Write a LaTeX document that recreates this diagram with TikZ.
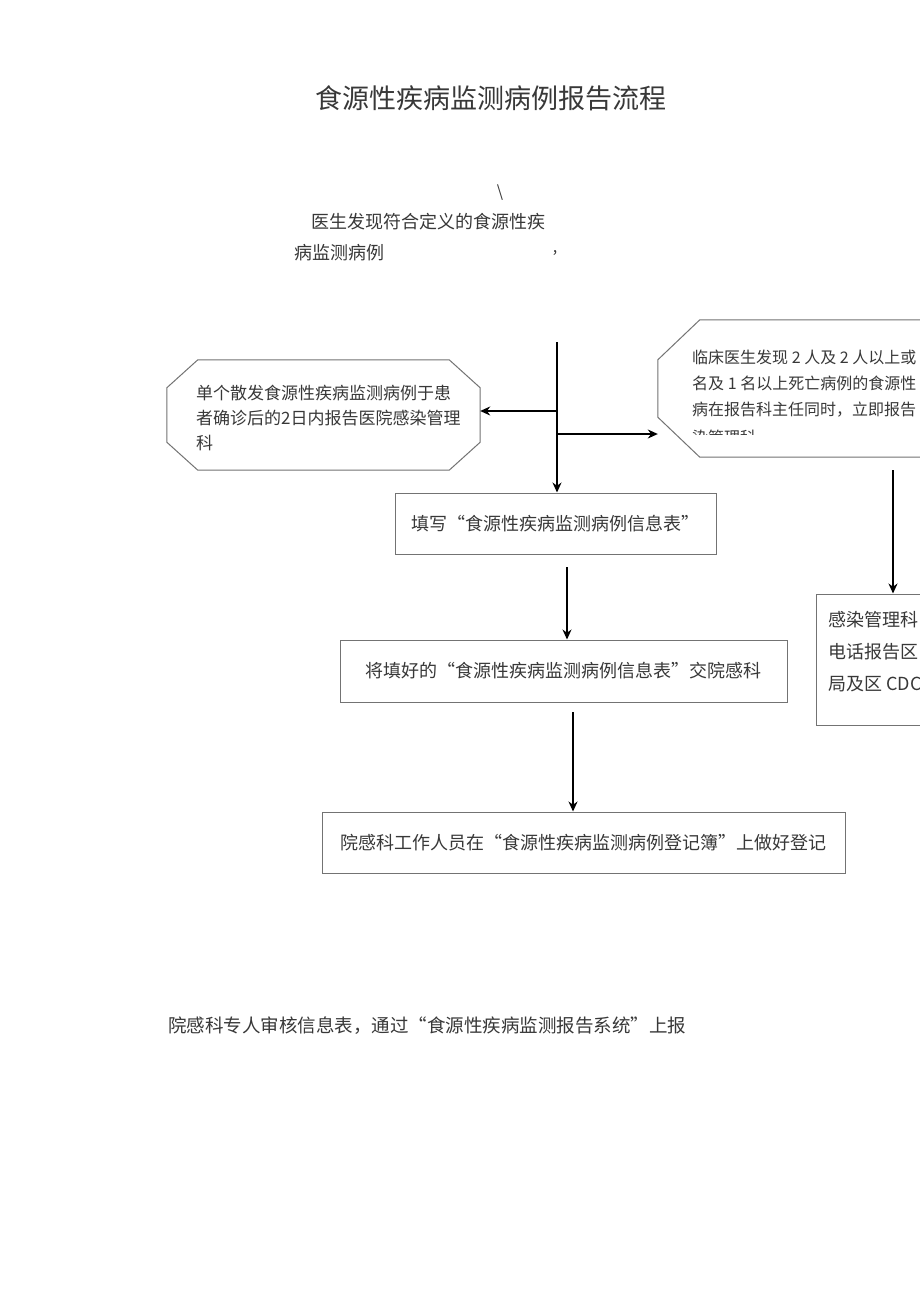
\documentclass[tikz,border=0pt]{standalone}
\usepackage{fontspec}
\setmainfont{Noto Sans CJK SC}
\usetikzlibrary{arrows.meta,positioning,calc}
\definecolor{inkgray}{rgb}{0.22,0.22,0.22}
\definecolor{linegray}{rgb}{0.45,0.45,0.45}
\tikzstyle{box} = [draw=linegray, line width=1pt, minimum width=300pt, minimum height=61pt, inner sep=0pt, text=inkgray, font=\fontsize{18}{22}\selectfont]
\tikzstyle{oct} = [draw=linegray, line width=1pt]
\tikzstyle{txt} = [text=inkgray, inner sep=0pt, align=left, font=\fontsize{16}{26}\selectfont]
\tikzstyle{arrow} = [line width=1.3pt, -{Stealth[length=10pt,width=9pt]}]

\begin{document}
\begin{tikzpicture}[x=1pt,y=-1pt]
\useasboundingbox (0,0) rectangle (920,1301);
\fill [white] (0,0) rectangle (920,1301);
\clip (0,0) rectangle (920,1301);

\node (title) [text=inkgray, font=\fontsize{27}{30}\selectfont] at (491,98) {食源性疾病监测病例报告流程};
\node (slash) [text=inkgray, font=\fontsize{16}{18}\selectfont] at (500,193) {\textbackslash};
\node (find1) [text=inkgray, font=\fontsize{18}{22}\selectfont] at (428,222) {医生发现符合定义的食源性疾};
\node (find2) [text=inkgray, font=\fontsize{18}{22}\selectfont, anchor=west] at (291,253) {病监测病例};
\node (comma) [text=inkgray, font=\fontsize{16}{18}\selectfont] at (555,253) {,};

% octagons
\node (single) [minimum width=313pt, minimum height=110pt] at (323.5,415) {};
\draw [oct] ([xshift=31]single.north west) -- ([xshift=-31]single.north east) -- ([yshift=-28]single.north east) -- ([yshift=28]single.south east) -- ([xshift=-31]single.south east) -- ([xshift=31]single.south west) -- ([yshift=28]single.south west) -- ([yshift=-28]single.north west) -- cycle;
\node (singletxt) [txt, anchor=north west, font=\fontsize{17}{25}\selectfont] at (196,385) {单个散发食源性疾病监测病例于患\\者确诊后的2日内报告医院感染管理\\科};

\node (group) [minimum width=342pt, minimum height=137pt] at (829,388.5) {};
\draw [oct] ([xshift=42]group.north west) -- ([xshift=-42]group.north east) -- ([yshift=-40]group.north east) -- ([yshift=40]group.south east) -- ([xshift=-42]group.south east) -- ([xshift=42]group.south west) -- ([yshift=40]group.south west) -- ([yshift=-40]group.north west) -- cycle;
\node (grouptxt) [txt, anchor=north west] at (692,350) {临床医生发现 2 人及 2 人以上或\\名及 1 名以上死亡病例的食源性\\病在报告科主任同时，立即报告};
\begin{scope}
\clip (650,400) rectangle (920,434);
\node (grouplast) [txt, anchor=west] at (692,437) {染管理科};
\end{scope}

% boxes
\node (fill) [box, minimum width=321pt] at (555.5,523.5) {填写“食源性疾病监测病例信息表”};
\node (hand) [box, minimum width=447pt, minimum height=62pt] at (563.5,671) {将填好的“食源性疾病监测病例信息表”交院感科};
\node (log) [box, minimum width=523pt] at (583.5,842.5) {院感科工作人员在“食源性疾病监测病例登记簿”上做好登记};
\node (report) [box, minimum width=164pt, minimum height=131pt] at (898,659.5) {};
\node (reporttxt) [text=inkgray, inner sep=0pt, align=left, anchor=north west, font=\fontsize{18}{32}\selectfont] at (828,611) {感染管理科\\电话报告区\\局及区 CDC};

\node (upload) [text=inkgray, anchor=west, inner sep=0pt, font=\fontsize{18.5}{22}\selectfont] at (168,1026) {院感科专人审核信息表，通过“食源性疾病监测报告系统”上报};

% connectors
\coordinate (top) at (557,342);
\coordinate (bl) at (557,411);
\coordinate (br) at (557,434);
\coordinate (gdown) at (893,470);
\coordinate (a1) at (567,567);
\coordinate (a2) at (573,712);
\draw [arrow] (top) -- (top |- fill.north);
\draw [arrow] (bl) -- (bl -| single.east);
\draw [arrow] (br) -- (br -| group.west);
\draw [arrow] (gdown) -- (gdown |- report.north);
\draw [arrow] (a1) -- (a1 |- hand.north);
\draw [arrow] (a2) -- (a2 |- log.north);
\end{tikzpicture}
\end{document}
